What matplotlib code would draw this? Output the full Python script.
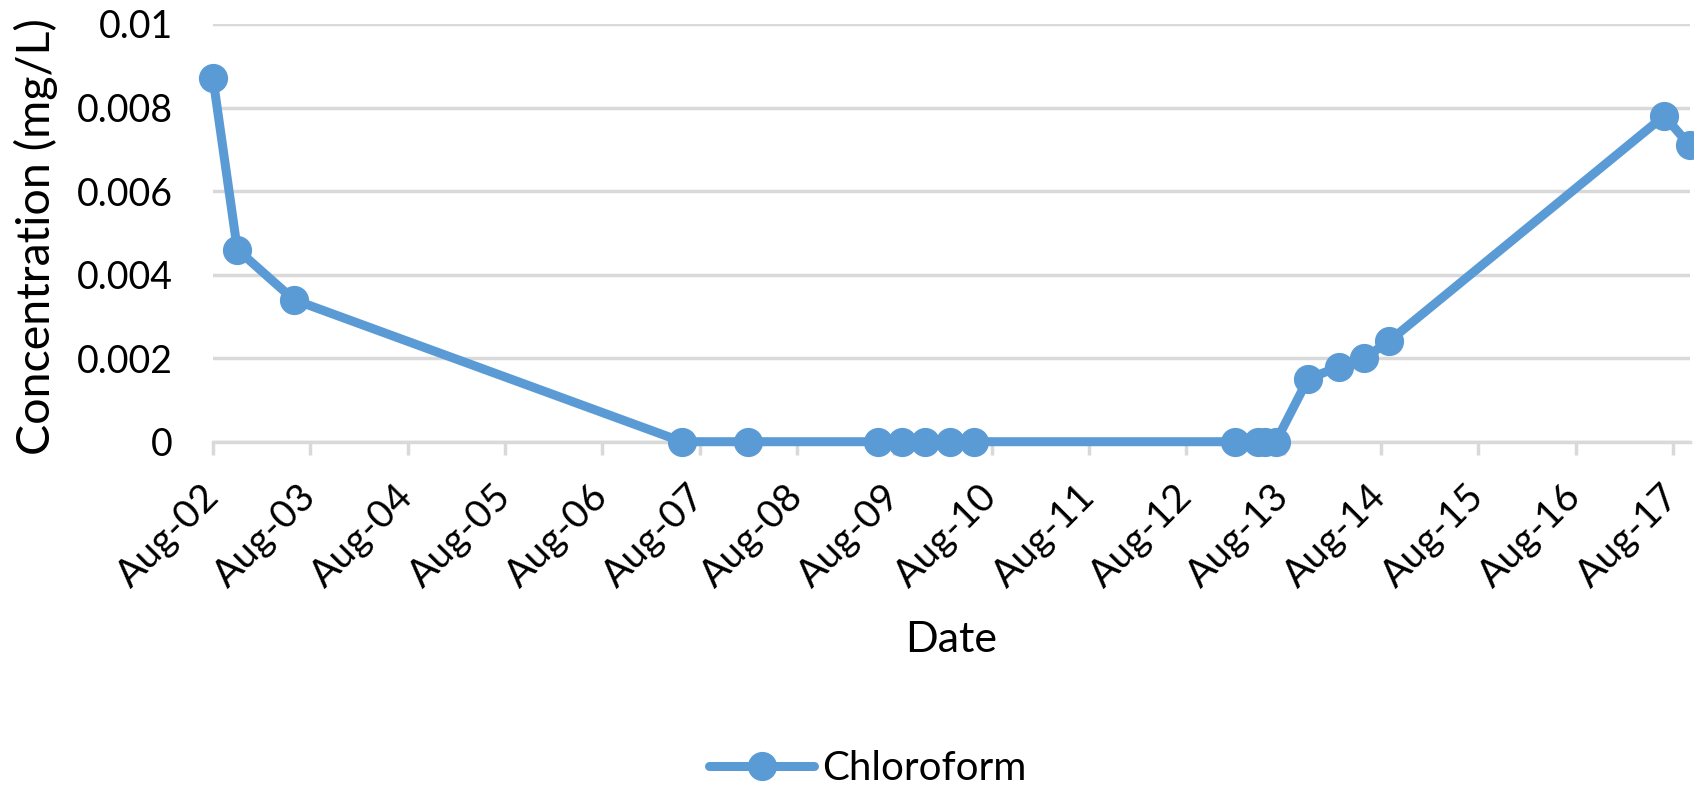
import matplotlib
matplotlib.use("Agg")
import matplotlib.pyplot as plt

# ---- data ----
days = [2.00, 2.25, 2.83, 6.82, 7.50, 8.83, 9.08, 9.32, 9.57, 9.82,
        12.50, 12.74, 12.81, 12.92, 13.25, 13.57, 13.83, 14.08, 16.91, 17.17]
chloroform = [0.0087, 0.0046, 0.0034, 0, 0, 0, 0, 0, 0, 0,
              0, 0, 0, 0, 0.0015, 0.0018, 0.0020, 0.0024, 0.0078, 0.0071]
tick_days = list(range(2, 18))
tick_labels = [f"Aug-{d:02d}" for d in tick_days]
y_ticks = [0, 0.002, 0.004, 0.006, 0.008, 0.01]
y_tick_labels = ["0", "0.002", "0.004", "0.006", "0.008", "0.01"]
series_name = "Chloroform"

plt.rcParams['font.family'] = ['Lato', 'DejaVu Sans']

W, H = 1694, 791
fig = plt.figure(figsize=(W/100, H/100), dpi=100)
ax_l, ax_r, ax_t, ax_b = 213, 1689.5, 24, 441.7
ax = fig.add_axes([ax_l/W, 1-ax_b/H, (ax_r-ax_l)/W, (ax_b-ax_t)/H])

color = "#5B9BD5"
ax.plot(days, chloroform, color=color, lw=6.5, marker='o', markersize=20,
        solid_joinstyle='round', solid_capstyle='round', clip_on=False,
        label=series_name, zorder=3)

ax.set_xlim(2.0, 17.17)
ax.set_ylim(0, 0.01)
ax.set_yticks(y_ticks)
ax.set_yticklabels(y_tick_labels, fontsize=27)
ax.set_xticks(tick_days)
ax.set_xticklabels(tick_labels, fontsize=28, rotation=45, ha='right',
                   rotation_mode='anchor', va='center')

grid_c = "#D9D9D9"
ax.grid(axis='y', color=grid_c, lw=2.5)
ax.set_axisbelow(True)
for s in ['top', 'right', 'left']:
    ax.spines[s].set_visible(False)
ax.spines['bottom'].set_color(grid_c)
ax.spines['bottom'].set_linewidth(2.5)
ax.tick_params(axis='y', length=0, pad=29)
ax.tick_params(axis='x', length=9.5, width=2.5, color=grid_c, pad=26)

ax_w, ax_h = ax_r - ax_l, ax_b - ax_t
ax.set_ylabel("Concentration (mg/L)", fontsize=33.5, va='center')
ax.yaxis.set_label_coords((36 - ax_l)/ax_w, 0.49)
ax.set_xlabel("Date", fontsize=31, va='center')
ax.xaxis.set_label_coords(0.5, (ax_b - 640)/ax_h)

fig.legend(loc='center', bbox_to_anchor=(868/W, 1-769/H), frameon=False,
           fontsize=29, handlelength=2.6, handletextpad=0.2)

fig.savefig("out.png", dpi=100)
